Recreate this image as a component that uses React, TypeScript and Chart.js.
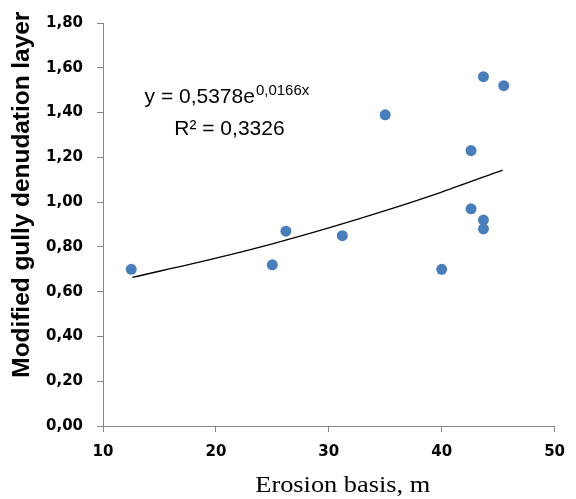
import React, { useEffect, useRef } from "react";
import { Chart, registerables } from "chart.js";

Chart.register(...registerables);

// Observed points (Erosion basis, m  vs  Modified gully denudation layer)
const erosionBasis = [12.5, 25.0, 26.2, 31.2, 35.0, 40.0, 42.6, 42.6, 43.7, 43.7, 43.7, 45.5];
const denudationLayer = [0.70, 0.72, 0.87, 0.85, 1.39, 0.70, 1.23, 0.97, 1.56, 0.92, 0.88, 1.52];

// Trend line
const trendX = [12.6, 20, 25, 30, 35, 40, 45.4];
const trendY = [0.664, 0.750, 0.814, 0.885, 0.962, 1.045, 1.143];

const xTitle = "Erosion basis, m";
const yTitle = "Modified gully denudation layer";
const eqMain = "y = 0,5378e";
const eqSup = "0,0166x";
const eqR2 = "R² = 0,3326";

const yTickLabels: Record<string, string> = {};
["0,00", "0,20", "0,40", "0,60", "0,80", "1,00", "1,20", "1,40", "1,60", "1,80"].forEach((t, i) => {
  yTickLabels[(i * 0.2).toFixed(1)] = t;
});

function fitText(ctx: CanvasRenderingContext2D, text: string, x: number, y: number, width: number) {
  const w = ctx.measureText(text).width;
  ctx.save();
  ctx.translate(x, y);
  ctx.scale(width / w, 1);
  ctx.fillText(text, 0, 0);
  ctx.restore();
}

const titlesPlugin = {
  id: "titlesPlugin",
  afterDraw(chart: any) {
    const { ctx, chartArea } = chart;
    const { left, right, top, bottom } = chartArea;
    const w = right - left;
    const h = bottom - top;
    ctx.save();
    ctx.fillStyle = "#000";

    // y title
    ctx.save();
    ctx.translate(left - 80, top + h * 0.426);
    ctx.rotate(-Math.PI / 2);
    ctx.font = 'bold 23px "Liberation Sans"';
    ctx.textAlign = "center";
    ctx.textBaseline = "middle";
    fitText(ctx, yTitle, 0, 0, 366);
    ctx.restore();

    // x title
    ctx.font = '24px "Liberation Serif"';
    ctx.textAlign = "center";
    ctx.textBaseline = "alphabetic";
    fitText(ctx, xTitle, left + w * 0.531, bottom + 66, 175);

    // equation
    ctx.textAlign = "left";
    ctx.font = '21px "Liberation Sans"';
    const ex = left + w * 0.092;
    const ey = top + 80;
    ctx.fillText(eqMain, ex, ey);
    const mw = ctx.measureText(eqMain).width;
    ctx.font = '15px "Liberation Sans"';
    ctx.fillText(eqSup, ex + mw + 1, ey - 8);
    ctx.font = '21px "Liberation Sans"';
    ctx.textAlign = "center";
    ctx.fillText(eqR2, left + w * 0.28, top + 112);

    ctx.restore();
  },
};

export default function App() {
  const canvasRef = useRef<HTMLCanvasElement>(null);

  useEffect(() => {
    document.body.style.margin = "0";
    const canvas = canvasRef.current;
    if (!canvas) return;
    const points = erosionBasis.map((x, i) => ({ x, y: denudationLayer[i] }));
    const trend = trendX.map((x, i) => ({ x, y: trendY[i] }));
    const axisGray = "#868686";
    const tickFont = { family: '"DejaVu Sans"', size: 15, weight: "bold" as const };

    const chart = new Chart(canvas, {
      type: "scatter",
      data: {
        datasets: [
          {
            type: "line",
            data: trend,
            borderColor: "#000",
            borderWidth: 1.3,
            pointRadius: 0,
            fill: false,
            cubicInterpolationMode: "monotone",
            order: 2,
          } as any,
          {
            type: "scatter",
            data: points,
            backgroundColor: "#4A7EBB",
            borderColor: "#4A7EBB",
            borderWidth: 0,
            pointRadius: 5.5,
            order: 1,
          },
        ],
      },
      options: {
        responsive: false,
        animation: false,
        layout: { padding: { left: 0, right: 16, top: 20, bottom: 0 } },
        plugins: { legend: { display: false }, tooltip: { enabled: false } },
        scales: {
          x: {
            type: "linear",
            min: 10,
            max: 50,
            ticks: { stepSize: 10, color: "#000", font: tickFont, padding: 11 },
            grid: { drawOnChartArea: false, drawTicks: true, tickLength: 6, color: axisGray },
            border: { display: true, color: axisGray, width: 1 },
            afterFit: (s: any) => {
              s.height = 73;
            },
          },
          y: {
            type: "linear",
            min: 0,
            max: 1.8,
            ticks: {
              stepSize: 0.2,
              color: "#000",
              font: tickFont,
              padding: 14,
              callback: (v: any) => yTickLabels[Number(v).toFixed(1)] ?? "",
            },
            grid: { drawOnChartArea: false, drawTicks: true, tickLength: 6, color: axisGray },
            border: { display: true, color: axisGray, width: 1 },
            afterFit: (s: any) => {
              s.width = 103;
            },
          },
        },
      },
      plugins: [titlesPlugin],
    });
    return () => chart.destroy();
  }, []);

  return (
    <div style={{ width: 576, height: 499 }}>
      <canvas ref={canvasRef} width={576} height={499} />
    </div>
  );
}
